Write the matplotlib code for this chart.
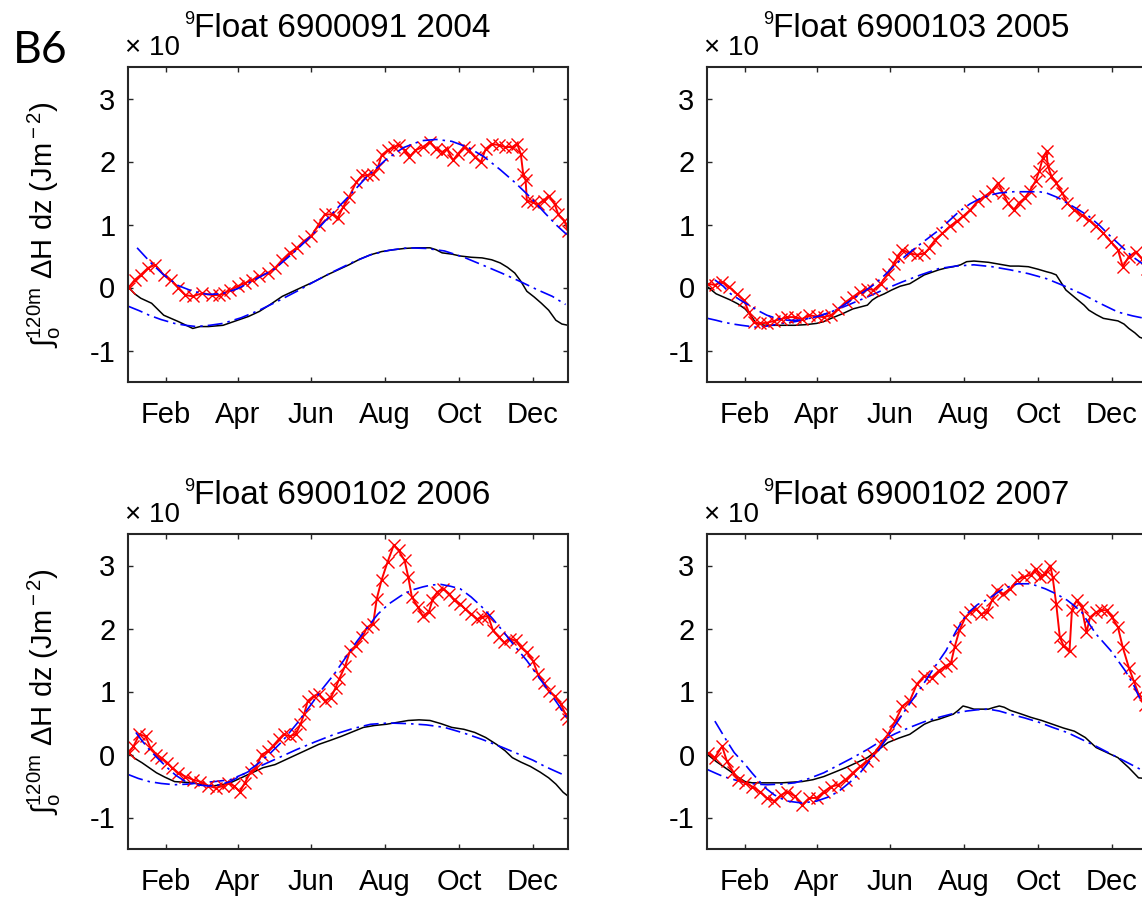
import numpy as np
import matplotlib
matplotlib.use('Agg')
import matplotlib.pyplot as plt


# day of year / heat content (x 10^9 J m^-2)
red_2004 = [(1, 0.0), (6, 0.12), (11, 0.2), (17, 0.31), (23, 0.36), (30, 0.2), (36, 0.12), (42, 0.0), (48, -0.12), (54, -0.14), (62, -0.09), (70, -0.12), (76, -0.12), (80, -0.09), (85, -0.04), (91, 0.02), (97, 0.07), (103, 0.12), (109, 0.18), (116, 0.23), (122, 0.31), (128, 0.44), (134, 0.55), (140, 0.63), (146, 0.74), (152, 0.82), (158, 1.0), (163, 1.16), (169, 1.16), (174, 1.11), (178, 1.27), (183, 1.43), (189, 1.67), (194, 1.78), (198, 1.78), (203, 1.8), (207, 1.91), (210, 2.1), (215, 2.18), (220, 2.23), (224, 2.26), (229, 2.18), (233, 2.07), (238, 2.18), (244, 2.23), (250, 2.31), (255, 2.2), (260, 2.15), (264, 2.2), (269, 2.02), (273, 2.12), (278, 2.23), (282, 2.18), (287, 2.07), (292, 1.99), (296, 2.2), (301, 2.28), (307, 2.26), (312, 2.23), (318, 2.23), (322, 2.28), (325, 2.12), (327, 1.8), (329, 1.7), (330, 1.38), (335, 1.35), (339, 1.32), (344, 1.38), (348, 1.46), (353, 1.32), (356, 1.16), (361, 1.06), (364, 0.9)]
fitr_2004 = [(8, 0.63), (20, 0.38), (30, 0.2), (42, 0.03), (54, -0.06), (66, -0.11), (78, -0.1), (91, -0.02), (105, 0.12), (122, 0.3), (137, 0.55), (152, 0.82), (167, 1.13), (183, 1.45), (198, 1.76), (213, 2.02), (228, 2.22), (243, 2.33), (255, 2.35), (268, 2.32), (282, 2.22), (295, 2.07), (308, 1.87), (320, 1.67), (333, 1.43), (345, 1.18), (355, 0.98), (363, 0.84)]
blk_2004 = [(1, 0.0), (6, -0.1), (11, -0.17), (20, -0.25), (30, -0.44), (42, -0.54), (54, -0.65), (60, -0.62), (67, -0.62), (79, -0.6), (91, -0.52), (100, -0.46), (109, -0.38), (118, -0.27), (128, -0.14), (137, -0.06), (146, 0.02), (155, 0.1), (165, 0.2), (174, 0.28), (183, 0.36), (192, 0.45), (201, 0.52), (210, 0.57), (220, 0.6), (229, 0.62), (238, 0.63), (250, 0.63), (255, 0.6), (260, 0.55), (268, 0.53), (275, 0.5), (284, 0.48), (293, 0.47), (301, 0.44), (308, 0.39), (314, 0.32), (320, 0.23), (325, 0.1), (330, -0.06), (336, -0.15), (342, -0.25), (348, -0.36), (354, -0.52), (359, -0.58), (364, -0.6)]
fitb_2004 = [(1, -0.3), (10, -0.37), (18, -0.44), (28, -0.51), (39, -0.57), (48, -0.6), (57, -0.62), (68, -0.6), (79, -0.57), (94, -0.48), (109, -0.36), (125, -0.21), (140, -0.06), (156, 0.11), (171, 0.26), (186, 0.4), (201, 0.52), (216, 0.59), (232, 0.63), (247, 0.62), (262, 0.58), (278, 0.48), (293, 0.36), (309, 0.23), (324, 0.1), (338, -0.03), (351, -0.14), (362, -0.27)]

red_2005 = [(1, 0.06), (7, 0.04), (13, 0.09), (19, 0.01), (25, -0.1), (31, -0.2), (35, -0.39), (39, -0.55), (44, -0.57), (50, -0.56), (56, -0.53), (62, -0.5), (67, -0.47), (73, -0.47), (79, -0.5), (85, -0.44), (91, -0.46), (97, -0.47), (103, -0.44), (109, -0.34), (115, -0.23), (121, -0.15), (127, -0.07), (133, -0.02), (138, -0.04), (144, 0.06), (150, 0.22), (155, 0.38), (158, 0.49), (162, 0.6), (168, 0.54), (174, 0.52), (180, 0.54), (184, 0.62), (189, 0.76), (195, 0.86), (201, 0.97), (207, 1.05), (212, 1.13), (218, 1.23), (224, 1.37), (230, 1.45), (236, 1.53), (241, 1.66), (245, 1.5), (249, 1.34), (254, 1.23), (258, 1.34), (263, 1.42), (267, 1.53), (272, 1.69), (275, 1.85), (278, 2.06), (281, 2.16), (282, 1.93), (285, 1.77), (289, 1.66), (294, 1.5), (298, 1.34), (304, 1.23), (310, 1.15), (316, 1.07), (322, 0.97), (328, 0.86), (334, 0.73), (340, 0.6), (344, 0.33), (349, 0.49), (355, 0.57), (360, 0.45), (364, 0.3)]
fitr_2005 = [(7, 0.12), (14, 0.02), (20, -0.1), (28, -0.2), (35, -0.28), (43, -0.37), (50, -0.44), (58, -0.49), (67, -0.52), (76, -0.52), (85, -0.49), (94, -0.45), (103, -0.39), (112, -0.3), (121, -0.18), (130, -0.07), (138, 0.04), (147, 0.19), (156, 0.36), (165, 0.51), (174, 0.65), (183, 0.78), (192, 0.91), (200, 1.05), (209, 1.21), (218, 1.33), (227, 1.42), (235, 1.47), (242, 1.5), (254, 1.52), (266, 1.52), (275, 1.52), (281, 1.5), (290, 1.43), (298, 1.34), (307, 1.24), (316, 1.13), (325, 0.98), (334, 0.81), (343, 0.65), (352, 0.49), (360, 0.38)]
blk_2005 = [(1, 0.01), (8, -0.1), (14, -0.15), (20, -0.2), (26, -0.26), (32, -0.34), (37, -0.45), (41, -0.57), (48, -0.6), (56, -0.6), (65, -0.6), (73, -0.6), (82, -0.59), (91, -0.57), (97, -0.54), (103, -0.49), (112, -0.42), (121, -0.34), (127, -0.31), (133, -0.28), (137, -0.2), (141, -0.15), (147, -0.1), (153, -0.04), (160, 0.02), (168, 0.06), (174, 0.13), (180, 0.2), (186, 0.24), (192, 0.28), (198, 0.31), (204, 0.33), (210, 0.36), (215, 0.41), (221, 0.42), (227, 0.41), (233, 0.4), (239, 0.38), (245, 0.36), (251, 0.34), (258, 0.34), (266, 0.33), (274, 0.29), (281, 0.25), (285, 0.23), (289, 0.2), (293, 0.08), (297, -0.04), (302, -0.12), (307, -0.2), (312, -0.28), (316, -0.36), (322, -0.43), (328, -0.49), (334, -0.51), (340, -0.53), (345, -0.58), (349, -0.65), (354, -0.72), (358, -0.79), (364, -0.83)]
fitb_2005 = [(1, -0.49), (8, -0.52), (14, -0.55), (22, -0.58), (29, -0.6), (41, -0.63), (51, -0.61), (62, -0.57), (71, -0.55), (79, -0.52), (91, -0.46), (103, -0.39), (118, -0.27), (133, -0.15), (147, -0.03), (162, 0.09), (177, 0.2), (192, 0.3), (206, 0.34), (221, 0.36), (236, 0.33), (251, 0.28), (266, 0.22), (281, 0.14), (295, 0.03), (310, -0.1), (325, -0.25), (340, -0.39), (352, -0.45), (362, -0.49)]

red_2006 = [(1, 0.03), (5, 0.13), (10, 0.32), (15, 0.29), (19, 0.11), (24, 0.0), (28, -0.05), (33, -0.13), (37, -0.21), (42, -0.29), (48, -0.35), (54, -0.4), (60, -0.43), (67, -0.5), (73, -0.53), (79, -0.5), (83, -0.45), (88, -0.5), (93, -0.59), (97, -0.45), (102, -0.27), (106, -0.21), (111, 0.0), (116, 0.05), (120, 0.13), (125, 0.24), (129, 0.32), (134, 0.29), (139, 0.32), (143, 0.48), (146, 0.64), (149, 0.85), (154, 0.93), (158, 0.96), (163, 0.85), (168, 0.9), (172, 1.06), (175, 1.2), (180, 1.41), (184, 1.65), (189, 1.73), (194, 1.86), (198, 2.02), (203, 2.07), (206, 2.47), (210, 2.77), (215, 3.06), (220, 3.32), (224, 3.24), (229, 3.08), (232, 2.82), (235, 2.5), (240, 2.34), (244, 2.2), (249, 2.26), (252, 2.45), (256, 2.58), (261, 2.63), (266, 2.55), (270, 2.45), (275, 2.39), (279, 2.31), (284, 2.23), (289, 2.15), (293, 2.18), (298, 2.2), (302, 1.97), (307, 1.86), (311, 1.78), (316, 1.83), (321, 1.81), (325, 1.7), (330, 1.62), (335, 1.49), (339, 1.28), (344, 1.14), (348, 1.01), (353, 0.93), (358, 0.8), (362, 0.64), (364, 0.56)]
fitr_2006 = [(7, 0.35), (12, 0.22), (18, 0.08), (25, -0.06), (33, -0.21), (40, -0.33), (48, -0.43), (57, -0.48), (67, -0.5), (76, -0.48), (85, -0.43), (97, -0.3), (109, -0.13), (118, 0.02), (128, 0.21), (140, 0.49), (152, 0.8), (161, 1.04), (171, 1.28), (180, 1.53), (189, 1.78), (198, 2.01), (207, 2.23), (216, 2.39), (226, 2.52), (235, 2.61), (244, 2.66), (251, 2.69), (259, 2.7), (267, 2.67), (275, 2.63), (284, 2.5), (293, 2.34), (302, 2.15), (311, 1.94), (320, 1.72), (330, 1.49), (339, 1.25), (348, 1.01), (356, 0.79), (363, 0.58)]
blk_2006 = [(1, 0.03), (6, -0.06), (12, -0.13), (18, -0.21), (24, -0.29), (31, -0.36), (39, -0.43), (47, -0.44), (54, -0.45), (62, -0.48), (70, -0.5), (78, -0.48), (85, -0.45), (94, -0.37), (103, -0.29), (112, -0.21), (122, -0.16), (131, -0.08), (140, 0.0), (149, 0.08), (158, 0.16), (167, 0.22), (177, 0.29), (186, 0.36), (195, 0.43), (204, 0.46), (214, 0.48), (223, 0.51), (232, 0.54), (241, 0.55), (250, 0.54), (259, 0.49), (268, 0.43), (278, 0.4), (287, 0.35), (296, 0.27), (305, 0.16), (312, 0.06), (318, -0.05), (325, -0.12), (333, -0.19), (341, -0.28), (348, -0.37), (354, -0.47), (360, -0.6), (364, -0.66)]
fitb_2006 = [(1, -0.32), (9, -0.38), (18, -0.43), (28, -0.46), (39, -0.48), (50, -0.47), (60, -0.45), (72, -0.43), (85, -0.4), (97, -0.3), (109, -0.19), (124, -0.06), (140, 0.08), (155, 0.2), (171, 0.32), (186, 0.41), (201, 0.48), (216, 0.5), (232, 0.49), (247, 0.47), (262, 0.43), (278, 0.34), (293, 0.24), (309, 0.12), (324, 0.0), (335, -0.09), (345, -0.19), (353, -0.26), (360, -0.32)]

red_2007 = [(1, 0.03), (7, -0.05), (13, 0.13), (17, -0.11), (22, -0.27), (26, -0.4), (32, -0.45), (38, -0.51), (44, -0.59), (50, -0.69), (56, -0.74), (62, -0.64), (67, -0.59), (73, -0.66), (79, -0.8), (85, -0.69), (91, -0.69), (97, -0.59), (103, -0.51), (109, -0.48), (115, -0.4), (121, -0.29), (127, -0.19), (133, -0.11), (138, 0.0), (144, 0.16), (150, 0.32), (156, 0.53), (162, 0.77), (168, 0.85), (174, 1.12), (180, 1.25), (186, 1.22), (192, 1.33), (198, 1.41), (202, 1.45), (205, 1.7), (209, 1.97), (214, 2.18), (218, 2.26), (223, 2.31), (227, 2.23), (232, 2.26), (236, 2.45), (240, 2.61), (245, 2.55), (251, 2.63), (257, 2.77), (262, 2.82), (268, 2.85), (272, 2.95), (276, 2.82), (280, 2.87), (284, 3.0), (286, 2.82), (289, 2.39), (292, 1.86), (295, 1.73), (300, 1.65), (302, 2.3), (306, 2.45), (310, 2.34), (314, 1.94), (317, 2.18), (322, 2.26), (326, 2.29), (331, 2.29), (335, 2.18), (340, 2.02), (344, 1.7), (349, 1.38), (353, 1.17), (357, 0.96), (362, 0.78)]
fitr_2007 = [(7, 0.53), (12, 0.37), (17, 0.21), (23, 0.03), (32, -0.16), (38, -0.3), (44, -0.43), (50, -0.55), (56, -0.64), (62, -0.7), (67, -0.74), (79, -0.77), (91, -0.74), (100, -0.68), (109, -0.59), (118, -0.45), (127, -0.29), (135, -0.1), (144, 0.11), (153, 0.38), (162, 0.64), (171, 0.89), (180, 1.14), (189, 1.4), (198, 1.65), (206, 1.95), (215, 2.23), (224, 2.38), (233, 2.47), (245, 2.63), (257, 2.71), (268, 2.71), (280, 2.63), (289, 2.55), (298, 2.45), (304, 2.36), (310, 2.26), (316, 2.08), (322, 1.91), (334, 1.65), (346, 1.33), (353, 1.1), (359, 0.85)]
blk_2007 = [(1, 0.0), (8, -0.11), (14, -0.19), (20, -0.27), (26, -0.36), (32, -0.43), (38, -0.45), (44, -0.45), (53, -0.45), (62, -0.45), (70, -0.44), (79, -0.43), (88, -0.4), (97, -0.35), (106, -0.28), (115, -0.21), (124, -0.13), (133, -0.05), (141, 0.06), (150, 0.19), (159, 0.26), (168, 0.32), (174, 0.4), (180, 0.48), (186, 0.53), (192, 0.56), (198, 0.6), (204, 0.64), (208, 0.7), (212, 0.77), (216, 0.75), (221, 0.72), (227, 0.72), (233, 0.72), (238, 0.75), (242, 0.77), (246, 0.75), (251, 0.7), (259, 0.65), (268, 0.59), (277, 0.54), (286, 0.48), (295, 0.42), (304, 0.37), (313, 0.27), (322, 0.11), (331, 0.03), (340, -0.05), (345, -0.14), (349, -0.21), (353, -0.29), (357, -0.37), (362, -0.38)]
fitb_2007 = [(1, -0.24), (8, -0.3), (14, -0.35), (23, -0.4), (32, -0.45), (41, -0.47), (50, -0.48), (62, -0.47), (73, -0.45), (85, -0.38), (97, -0.29), (109, -0.17), (121, -0.05), (133, 0.08), (144, 0.21), (156, 0.33), (168, 0.43), (180, 0.52), (192, 0.59), (204, 0.65), (215, 0.69), (224, 0.71), (233, 0.72), (242, 0.69), (251, 0.64), (263, 0.58), (275, 0.51), (286, 0.43), (298, 0.35), (310, 0.24), (322, 0.13), (334, 0.01), (346, -0.11), (353, -0.18), (359, -0.24)]

titles = ['Float 6900091 2004', 'Float 6900103 2005', 'Float 6900102 2006', 'Float 6900102 2007']
month_days = [32, 91, 152, 213, 274, 335]
month_labels = ['Feb', 'Apr', 'Jun', 'Aug', 'Oct', 'Dec']
y_ticks = [-1, 0, 1, 2, 3]

panels = [
    (red_2004, fitr_2004, blk_2004, fitb_2004),
    (red_2005, fitr_2005, blk_2005, fitb_2005),
    (red_2006, fitr_2006, blk_2006, fitb_2006),
    (red_2007, fitr_2007, blk_2007, fitb_2007),
]

plt.rcParams['font.family'] = ['Liberation Sans', 'DejaVu Sans']
plt.rcParams['mathtext.fontset'] = 'custom'
plt.rcParams['mathtext.rm'] = 'Liberation Sans'
plt.rcParams['mathtext.it'] = 'Liberation Sans:italic'
plt.rcParams['axes.unicode_minus'] = False

W, H = 1142, 898
fig = plt.figure(figsize=(W / 100, H / 100), dpi=100)
fig.patch.set_facecolor('white')

# axes boxes in pixels (left, top) - right column runs off the page
lefts = [128, 707, 128, 707]
tops = [67, 67, 534, 534]
ax_w, ax_h = 440, 315

frame_col = '#262626'
dashdot = (0, (9, 3, 1.5, 3))

for i, (red, fitr, blk, fitb) in enumerate(panels):
    ax = fig.add_axes([lefts[i] / W, 1 - (tops[i] + ax_h) / H, ax_w / W, ax_h / H])

    r = np.array(red).T
    fr = np.array(fitr).T
    b = np.array(blk).T
    fb = np.array(fitb).T

    ax.plot(b[0], b[1], color='black', lw=1.1)
    ax.plot(fb[0], fb[1], color='blue', lw=1.2, linestyle=dashdot)
    ax.plot(r[0], r[1], color='red', lw=1.4, marker='x', markersize=8, markeredgewidth=1.0)
    ax.plot(fr[0], fr[1], color='blue', lw=1.2, linestyle=dashdot)

    ax.set_xlim(0.5, 364)
    ax.set_ylim(-1.5, 3.5)
    ax.set_xticks(month_days)
    ax.set_xticklabels(month_labels)
    ax.set_yticks(y_ticks)
    ax.set_yticklabels([str(t) for t in y_ticks])

    ax.tick_params(direction='in', length=3.6, width=1.0, color=frame_col,
                   top=True, right=True, labelsize=21)
    ax.tick_params(axis='x', pad=14)
    ax.tick_params(axis='y', pad=9)
    for sp in ax.spines.values():
        sp.set_linewidth(1.5)
        sp.set_color(frame_col)

    ax.set_title(titles[i], fontsize=24, pad=21.6, x=0.486)

    # MATLAB style exponent above the y axis
    ax.annotate('\u00d7 10', xy=(0, 1), xycoords='axes fraction', xytext=(-2.2, 8.6),
                textcoords='offset points', ha='left', va='baseline', fontsize=20)
    ax.annotate('9', xy=(0, 1), xycoords='axes fraction', xytext=(40.5, 31),
                textcoords='offset points', ha='left', va='baseline', fontsize=13)

    if i % 2 == 0:
        ax.set_ylabel('\u222b$_{\\rm o}^{\\rm 120m}$ \u0394H dz (Jm$^{\\rm -2}$)', fontsize=21)
        ax.yaxis.set_label_coords(-0.148, 0.5)

fig.text(13 / W, 1 - 63 / H, 'B6', fontsize=32, family='Lato', va='baseline', ha='left')

fig.savefig('out.png', dpi=100)
